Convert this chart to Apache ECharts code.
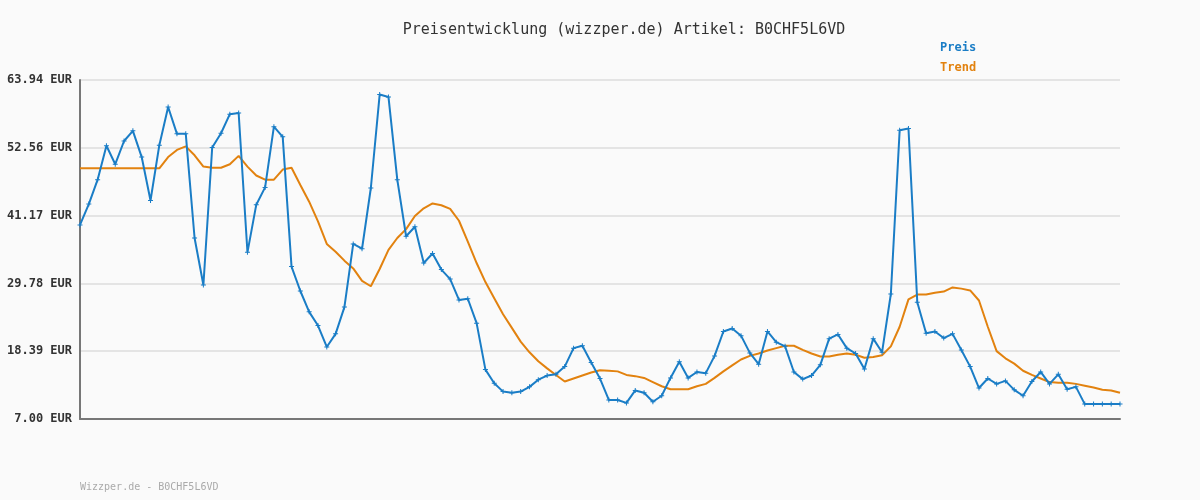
<!DOCTYPE html>
<html>
<head>
<meta charset="utf-8">
<script src="https://cdn.jsdelivr.net/npm/echarts@6/dist/echarts.min.js"></script>
<style>html,body{margin:0;padding:0;background:#fafafa;}#c{width:1200px;height:500px;}</style>
</head>
<body>
<div id="c"></div>
<script>
const titleText = 'Preisentwicklung (wizzper.de) Artikel: B0CHF5L6VD';
const footerText = 'Wizzper.de - B0CHF5L6VD';
const seriesNames = ['Preis', 'Trend'];
const yMin = 7.00;
const yMax = 63.944;
const tickLabels = ['7.00 EUR', '18.39 EUR', '29.78 EUR', '41.17 EUR', '52.56 EUR', '63.94 EUR'];

const preis = [
  39.6, 43.1, 47.2, 52.9, 49.8, 53.7, 55.4, 51.0, 43.7, 53.0,
  59.4, 54.9, 54.9, 37.4, 29.5, 52.6, 55.0, 58.2, 58.4, 35.0,
  43.0, 45.9, 56.1, 54.4, 32.6, 28.5, 25.0, 22.7, 19.1, 21.3,
  25.8, 36.4, 35.6, 45.8, 61.5, 61.1, 47.2, 37.7, 39.3, 33.2,
  34.8, 32.1, 30.5, 27.0, 27.2, 23.1, 15.3, 13.0, 11.6, 11.4,
  11.6, 12.4, 13.6, 14.3, 14.5, 15.8, 18.9, 19.3, 16.5, 13.8,
  10.2, 10.2, 9.7, 11.8, 11.4, 9.9, 10.9, 13.9, 16.6, 13.9,
  14.9, 14.7, 17.6, 21.7, 22.2, 21.0, 18.1, 16.2, 21.7, 19.9,
  19.2, 14.9, 13.7, 14.3, 16.1, 20.5, 21.2, 18.9, 18.0, 15.4,
  20.5, 18.2, 28.0, 55.5, 55.8, 26.6, 21.4, 21.7, 20.6, 21.3,
  18.6, 15.8, 12.2, 13.8, 12.9, 13.4, 11.9, 10.9, 13.3, 14.9,
  12.9, 14.5, 12.0, 12.4, 9.5, 9.5, 9.5, 9.5, 9.5
];

const trend = [
  49.1, 49.1, 49.1, 49.1, 49.1, 49.1, 49.1, 49.1, 49.1, 49.1,
  51.0, 52.2, 52.8, 51.3, 49.4, 49.2, 49.2, 49.8, 51.2, 49.4,
  47.9, 47.2, 47.2, 48.9, 49.2, 46.3, 43.5, 40.2, 36.4, 35.1,
  33.6, 32.3, 30.2, 29.3, 32.2, 35.4, 37.4, 38.9, 41.1, 42.4,
  43.2, 42.9, 42.3, 40.3, 36.8, 33.2, 30.0, 27.3, 24.6, 22.3,
  20.0, 18.2, 16.7, 15.5, 14.4, 13.3, 13.8, 14.3, 14.8, 15.2,
  15.1, 15.0, 14.4, 14.2, 13.9, 13.2, 12.5, 12.0, 12.0, 12.0,
  12.5, 12.9, 13.9, 15.0, 16.0, 17.0, 17.6, 18.0, 18.5, 18.9,
  19.3, 19.3, 18.6, 18.0, 17.5, 17.5, 17.8, 18.0, 17.8, 17.3,
  17.4, 17.7, 19.2, 22.5, 27.1, 27.9, 27.9, 28.2, 28.4, 29.1,
  28.9, 28.6, 26.9, 22.5, 18.4, 17.2, 16.3, 15.1, 14.4, 13.8,
  13.2, 13.1, 13.1, 12.9, 12.6, 12.3, 11.9, 11.8, 11.4
];

const categories = preis.map((_, i) => String(i + 1));

const interval = (yMax - yMin) / 5;
const chart = echarts.init(document.getElementById('c'));
const mono = 'DejaVu Sans Mono';
chart.setOption({
  backgroundColor: '#fafafa',
  animation: false,
  title: {
    text: titleText,
    left: 619, top: 18, textAlign: 'center',
    textStyle: { fontFamily: mono, fontSize: 15, fontWeight: 'normal', color: '#333' }
  },
  graphic: [{
    type: 'text', left: 80, top: 482,
    style: { text: footerText, fontFamily: mono, fontSize: 10, fill: '#aaa' }
  }],
  legend: {
    orient: 'vertical', left: 930, top: 37, itemGap: 8,
    icon: 'none', itemWidth: 0, itemHeight: 0,
    data: [
      { name: seriesNames[0], textStyle: { color: '#1a7dc6' } },
      { name: seriesNames[1], textStyle: { color: '#e2820f' } }
    ],
    textStyle: { fontFamily: mono, fontSize: 12, fontWeight: 'bold' }
  },
  grid: { left: 80, right: 80, top: 80, bottom: 81, containLabel: false },
  xAxis: {
    type: 'category', data: categories, boundaryGap: false,
    axisLine: { show: true, lineStyle: { color: '#777', width: 2 } },
    axisTick: { show: false }, axisLabel: { show: false }, splitLine: { show: false }
  },
  yAxis: {
    type: 'value', min: yMin, max: yMax, interval: interval,
    axisLine: { show: true, lineStyle: { color: '#777', width: 2 } },
    axisTick: { show: false },
    axisLabel: {
      margin: 8, fontFamily: mono, fontSize: 12, fontWeight: 'bold', color: '#333',
      padding: [3, 0, 0, 0],
      formatter: v => tickLabels[Math.round((v - yMin) / interval)]
    },
    splitLine: { show: true, lineStyle: { color: '#e4e4e4', width: 2 } }
  },
  series: [
    {
      name: seriesNames[0], type: 'line', data: preis,
      symbol: 'path://M2,0H3V2H5V3H3V5H2V3H0V2H2Z', symbolSize: 5, showSymbol: true,
      itemStyle: { color: '#1a7dc6' },
      lineStyle: { color: '#1a7dc6', width: 2 }, z: 3
    },
    {
      name: seriesNames[1], type: 'line', data: trend,
      symbol: 'none',
      itemStyle: { color: '#e2820f' },
      lineStyle: { color: '#e2820f', width: 2 }, z: 2
    }
  ]
});
</script>
</body>
</html>
